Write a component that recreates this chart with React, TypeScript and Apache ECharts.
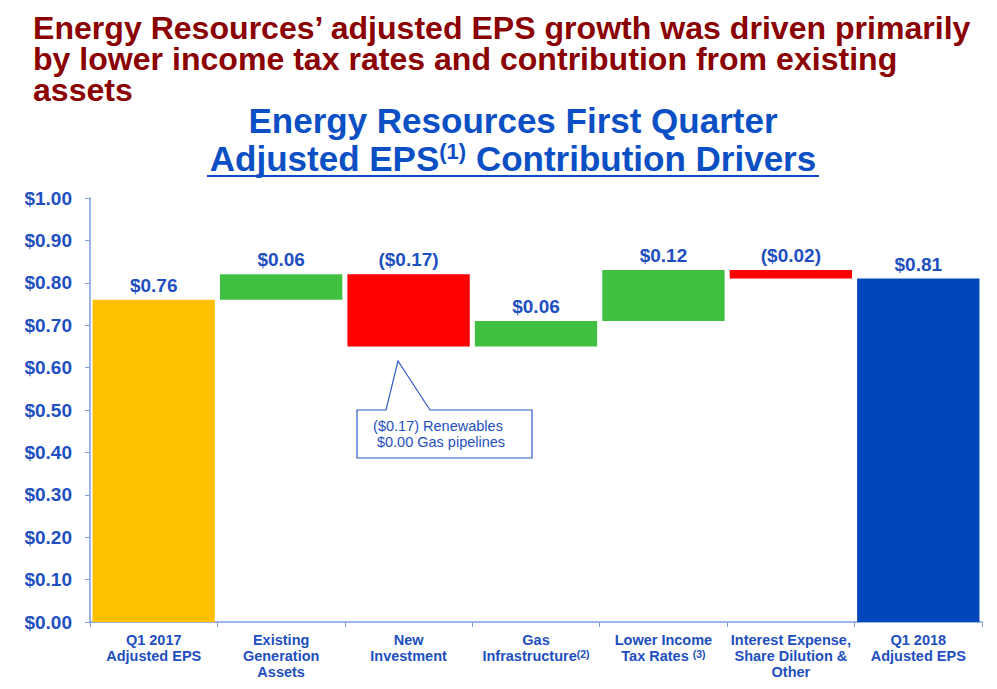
import React, { useEffect, useRef } from "react";
import * as echarts from "echarts";

const categories = [
  "Q1 2017\nAdjusted EPS",
  "Existing\nGeneration\nAssets",
  "New\nInvestment",
  "Gas\nInfrastructure",
  "Lower Income\nTax Rates ",
  "Interest Expense,\nShare Dilution &\nOther",
  "Q1 2018\nAdjusted EPS",
];
const footnotes = ["", "", "", "(2)", "(3)", "", ""];
const barBottoms = [0, 0.76, 0.65, 0.65, 0.71, 0.81, 0];
const barHeights = [0.76, 0.06, 0.17, 0.06, 0.12, 0.02, 0.81];
const valueLabels = ["$0.76", "$0.06", "($0.17)", "$0.06", "$0.12", "($0.02)", "$0.81"];
const barKinds = ["start", "up", "down", "up", "up", "down", "end"];
const yTicks = [0, 0.1, 0.2, 0.3, 0.4, 0.5, 0.6, 0.7, 0.8, 0.9, 1.0];
const headlineLines = [
  "Energy Resources\u2019 adjusted EPS growth was driven primarily",
  "by lower income tax rates and contribution from existing",
  "assets",
];
const calloutLines = ["($0.17) Renewables", "$0.00 Gas pipelines"];

const FONT = "'Liberation Sans', Arial, Helvetica, sans-serif";
const BLUE_TEXT = "#1E4FC0";
const AXIS_BLUE = "#7C9DDB";
const kindColor: Record<string, string> = {
  start: "#FFC000",
  up: "#40BF40",
  down: "#FF0000",
  end: "#0047BB",
};

export default function App() {
  const ref = useRef<HTMLDivElement>(null);
  useEffect(() => {
    if (!ref.current) return;
    const chart = echarts.init(ref.current, undefined, { renderer: "svg" });
    const option: any = {
      animation: false,
      backgroundColor: "#ffffff",
      textStyle: { fontFamily: FONT },
      grid: { left: 90, right: 15, top: 198, bottom: 67, containLabel: false },
      xAxis: {
        type: "category",
        data: categories,
        axisLine: { lineStyle: { color: AXIS_BLUE, width: 1.5 } },
        axisTick: { show: true, length: 5, lineStyle: { color: AXIS_BLUE } },
        axisLabel: {
          interval: 0,
          margin: 10,
          color: BLUE_TEXT,
          fontWeight: "bold",
          fontSize: 14.5,
          fontFamily: FONT,
          lineHeight: 16,
          formatter: (v: string, i: number) =>
            footnotes[i] ? v + "{sup|" + footnotes[i] + "}" : v,
          rich: {
            sup: {
              fontSize: 10.5,
              fontWeight: "bold",
              color: BLUE_TEXT,
              fontFamily: FONT,
              padding: [0, 0, 5, 0],
            },
          },
        },
      },
      yAxis: {
        type: "value",
        min: 0,
        max: 1,
        interval: 0.1,
        splitLine: { show: false },
        axisLine: { show: true, lineStyle: { color: AXIS_BLUE, width: 1.5 } },
        axisTick: { show: true, length: 5, lineStyle: { color: AXIS_BLUE } },
        axisLabel: {
          margin: 18,
          color: BLUE_TEXT,
          fontWeight: "bold",
          fontSize: 19,
          fontFamily: FONT,
          formatter: (v: number) => {
            const t = yTicks.find((x) => Math.abs(x - v) < 1e-9);
            return "$" + (t !== undefined ? t : v).toFixed(2);
          },
        },
      },
      series: [
        {
          type: "bar",
          stack: "w",
          data: barBottoms,
          itemStyle: { color: "transparent" },
          barCategoryGap: "4%",
          silent: true,
        },
        {
          type: "bar",
          stack: "w",
          barCategoryGap: "4%",
          data: barHeights.map((h, i) => ({
            value: h,
            itemStyle: { color: kindColor[barKinds[i]] },
          })),
          label: {
            show: true,
            position: "top",
            distance: 5,
            color: BLUE_TEXT,
            fontWeight: "bold",
            fontSize: 19,
            fontFamily: FONT,
            formatter: (p: any) => valueLabels[p.dataIndex],
          },
        },
      ],
      graphic: [
        ...headlineLines.map((t, i) => ({
          type: "text",
          x: 33,
          y: 28 + i * 31,
          scaleX: 1.035,
          style: {
            text: t,
            fill: "#8B0000",
            font: "bold 31px " + FONT,
            textAlign: "left",
            textVerticalAlign: "middle",
          },
        })),
        {
          type: "text",
          x: 513,
          y: 120,
          style: {
            text: "Energy Resources First Quarter",
            fill: "#0B4FC4",
            font: "bold 35px " + FONT,
            textAlign: "center",
            textVerticalAlign: "middle",
          },
        },
        {
          type: "text",
          x: 513,
          y: 158,
          style: {
            text: "Adjusted EPS{sup|(1)} Contribution Drivers",
            fill: "#0B4FC4",
            font: "bold 35px " + FONT,
            textAlign: "center",
            textVerticalAlign: "middle",
            rich: {
              sup: {
                fontSize: 22,
                fontWeight: "bold",
                fontFamily: FONT,
                fill: "#0B4FC4",
                padding: [0, 0, 14, 0],
              },
            },
          },
        },
        {
          type: "line",
          shape: { x1: 207, y1: 176, x2: 819, y2: 176 },
          style: { stroke: "#0B4FC4", lineWidth: 2 },
        },
        {
          type: "polygon",
          shape: {
            points: [
              [357, 410],
              [386, 410],
              [398, 361],
              [430, 410],
              [532, 410],
              [532, 458],
              [357, 458],
            ],
          },
          style: { fill: "#ffffff", stroke: "#2E5BC8", lineWidth: 1.2 },
        },
        {
          type: "text",
          x: 438,
          y: 426,
          style: {
            text: calloutLines[0],
            fill: "#1E4FC0",
            font: "14.5px " + FONT,
            textAlign: "center",
            textVerticalAlign: "middle",
          },
        },
        {
          type: "text",
          x: 441,
          y: 442,
          style: {
            text: calloutLines[1],
            fill: "#1E4FC0",
            font: "14.5px " + FONT,
            textAlign: "center",
            textVerticalAlign: "middle",
          },
        },
      ],
    };
    chart.setOption(option);
    return () => chart.dispose();
  }, []);
  return (
    <div
      ref={ref}
      style={{ position: "fixed", left: 0, top: 0, width: 997, height: 689, background: "#fff" }}
    />
  );
}
